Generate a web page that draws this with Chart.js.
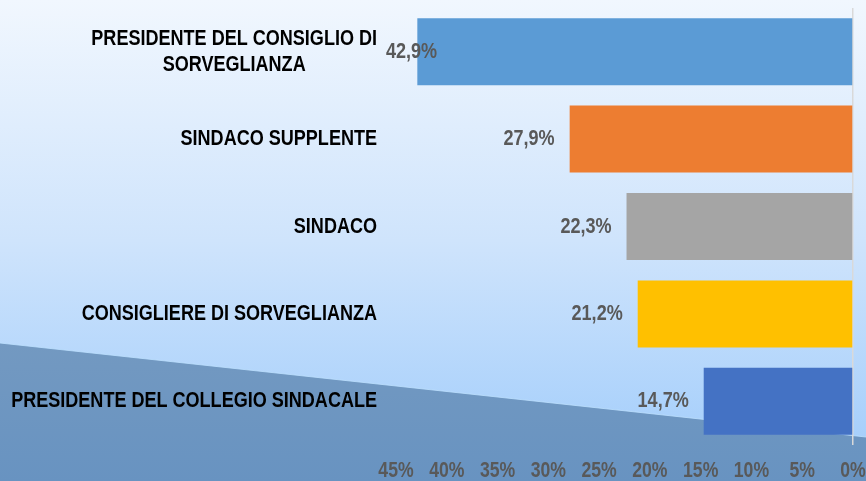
<!DOCTYPE html>
<html>
<head>
<meta charset="utf-8">
<script src="https://cdn.jsdelivr.net/npm/chart.js@4.4.0/dist/chart.umd.min.js"></script>
<style>
  html, body { margin: 0; padding: 0; background: #fff; }
  #wrap { width: 866px; height: 481px; position: relative; }
</style>
</head>
<body>
<div id="wrap"><canvas id="chart" width="866" height="481"></canvas></div>
<script>
// Data
const categories = [
    ['PRESIDENTE DEL CONSIGLIO DI', 'SORVEGLIANZA'],
    'SINDACO SUPPLENTE',
    'SINDACO',
    'CONSIGLIERE DI SORVEGLIANZA',
    'PRESIDENTE DEL COLLEGIO SINDACALE'
];
const shares = [42.9, 27.9, 22.3, 21.2, 14.7];
const barColors = ['#5b9bd5', '#ed7d31', '#a5a5a5', '#ffc000', '#4472c4'];
const axisMin = 0;
const axisMax = 45;
const axisStep = 5;

// No Arial Narrow here: squeeze Liberation Sans horizontally instead
const FONT = '"Liberation Sans", Arial, sans-serif';
const SQUEEZE = 0.82;

function narrowText(ctx, text, x, y, align) {
    ctx.save();
    ctx.translate(x, y);
    ctx.scale(SQUEEZE, 1);
    ctx.textAlign = align;
    ctx.fillText(text, 0, 0);
    ctx.restore();
}
function narrowWidth(ctx, text) {
    return ctx.measureText(text).width * SQUEEZE;
}

// Background: light gradient + dark wedge at the bottom
const backgroundPlugin = {
    id: 'background',
    beforeDraw(chart) {
        const { ctx, width, height } = chart;
        ctx.save();
        const g = ctx.createLinearGradient(0, 0, 0, height);
        g.addColorStop(0, '#f1f7fe');
        g.addColorStop(0.5, '#cfe4fc');
        g.addColorStop(1, '#9ecbfb');
        ctx.fillStyle = g;
        ctx.fillRect(0, 0, width, height);

        const g2 = ctx.createLinearGradient(0, 343, 0, height);
        g2.addColorStop(0, '#7399c1');
        g2.addColorStop(1, '#6893c1');
        ctx.beginPath();
        ctx.moveTo(0, 343);
        ctx.lineTo(width, 437);
        ctx.lineTo(width, height);
        ctx.lineTo(0, height);
        ctx.closePath();
        ctx.fillStyle = g2;
        ctx.fill();
        ctx.strokeStyle = 'rgba(190,225,255,0.8)';
        ctx.lineWidth = 1;
        ctx.beginPath();
        ctx.moveTo(0, 343);
        ctx.lineTo(width, 437);
        ctx.stroke();
        ctx.restore();
    }
};

// Category labels, block right aligned, lines centered
const categoryLabelPlugin = {
    id: 'categoryLabels',
    afterDraw(chart) {
        const { ctx } = chart;
        const yScale = chart.scales.y;
        ctx.save();
        ctx.font = 'bold 22px ' + FONT;
        ctx.fillStyle = '#000';
        ctx.textBaseline = 'middle';
        categories.forEach((label, i) => {
            const lines = Array.isArray(label) ? label : [label];
            const w = Math.max(...lines.map(l => narrowWidth(ctx, l)));
            const cx = 377 - w / 2;
            const y = yScale.getPixelForValue(i);
            const lh = 26;
            lines.forEach((line, j) => {
                narrowText(ctx, line, cx, y + (j - (lines.length - 1) / 2) * lh, 'center');
            });
        });
        ctx.restore();
    }
};

// Value labels at the outer end of each bar
const valueLabelPlugin = {
    id: 'valueLabels',
    afterDatasetsDraw(chart) {
        const { ctx, chartArea } = chart;
        const meta = chart.getDatasetMeta(0);
        ctx.save();
        ctx.font = 'bold 22px ' + FONT;
        ctx.fillStyle = '#595959';
        ctx.textBaseline = 'middle';
        meta.data.forEach((bar, i) => {
            const text = shares[i].toFixed(1).replace('.', ',') + '%';
            const w = narrowWidth(ctx, text);
            let right = bar.x - 15;
            if (right - w < chartArea.left - 10) right = chartArea.left - 10 + w;
            narrowText(ctx, text, right, bar.y, 'right');
        });
        ctx.restore();
    }
};

// X tick labels, drawn from the scale's own ticks
const xTickPlugin = {
    id: 'xTicks',
    afterDraw(chart) {
        const { ctx } = chart;
        const xScale = chart.scales.x;
        ctx.save();
        ctx.font = 'bold 21.5px ' + FONT;
        ctx.fillStyle = '#595959';
        ctx.textBaseline = 'middle';
        xScale.ticks.forEach(t => {
            narrowText(ctx, t.value + '%', xScale.getPixelForValue(t.value), 471, 'center');
        });
        ctx.restore();
    }
};

new Chart(document.getElementById('chart'), {
    type: 'bar',
    data: {
        labels: categories,
        datasets: [{
            data: shares,
            backgroundColor: barColors,
            borderWidth: 0,
            categoryPercentage: 1,
            barPercentage: 0.767
        }]
    },
    options: {
        indexAxis: 'y',
        responsive: false,
        animation: false,
        layout: { padding: { top: 8, right: 13, left: 0, bottom: 0 } },
        plugins: {
            legend: { display: false },
            tooltip: { enabled: false }
        },
        scales: {
            x: {
                reverse: true,
                min: axisMin,
                max: axisMax,
                border: { display: false },
                grid: {
                    drawTicks: false,
                    lineWidth: 1.5,
                    color: ctx => ctx.tick && ctx.tick.value === 0 ? '#d9d9d9' : 'rgba(0,0,0,0)'
                },
                ticks: { stepSize: axisStep, display: false },
                afterFit: scale => { scale.height = 36; }
            },
            y: {
                border: { display: false },
                grid: { display: false },
                ticks: { display: false },
                afterFit: scale => { scale.width = 396; }
            }
        }
    },
    plugins: [backgroundPlugin, categoryLabelPlugin, valueLabelPlugin, xTickPlugin]
});
</script>
</body>
</html>
